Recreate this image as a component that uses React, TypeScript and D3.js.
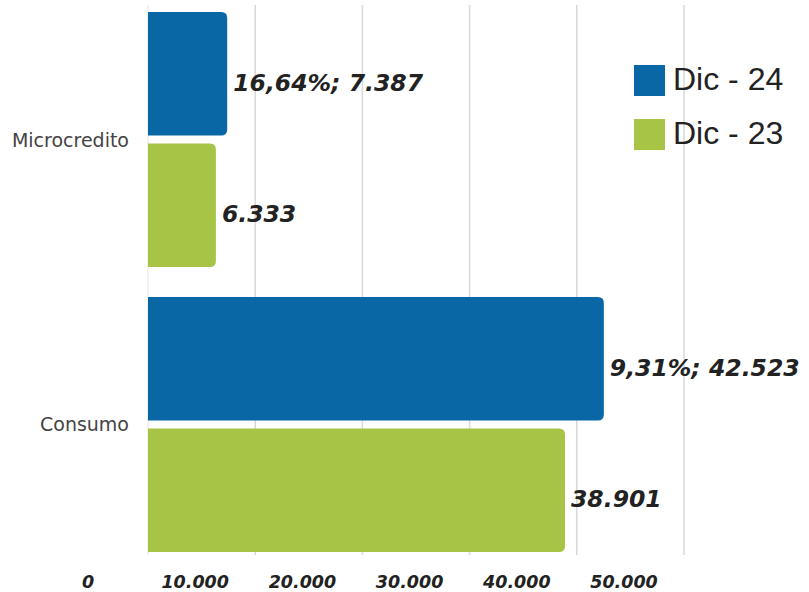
import * as d3 from "d3";

const categories = ["Microcredito", "Consumo"];
const seriesNames = ["Dic - 24", "Dic - 23"];
const dic24Values = [7387, 42523];
const dic23Values = [6333, 38901];
const dic24Labels = ["16,64%; 7.387", "9,31%; 42.523"];
const dic23Labels = ["6.333", "38.901"];
const xTicks = [0, 10000, 20000, 30000, 40000, 50000];
const xTickLabels = ["0", "10.000", "20.000", "30.000", "40.000", "50.000"];

const colors = ["#0A67A6", "#A8C446"];

const width = 809;
const height = 592;

// rounded only on the right end, like the original bars
function barPath(x0: number, x1: number, y0: number, h: number, r: number) {
  const rr = Math.min(r, (x1 - x0) / 2, h / 2);
  return `M${x0},${y0}H${x1 - rr}Q${x1},${y0} ${x1},${y0 + rr}V${y0 + h - rr}Q${x1},${y0 + h} ${x1 - rr},${y0 + h}H${x0}Z`;
}

export default function App() {
  const xScale = d3.scaleLinear().domain([0, 50000]).range([148, 684]);
  const yScale = d3.scaleBand<string>().domain(categories).range([12, 552]).paddingInner(0.105);
  const inner = d3.scaleBand<string>().domain(seriesNames).range([0, yScale.bandwidth()]).paddingInner(0.062);

  const series = [
    { name: seriesNames[0], values: dic24Values, labels: dic24Labels, color: colors[0] },
    { name: seriesNames[1], values: dic23Values, labels: dic23Labels, color: colors[1] },
  ];

  return (
    <svg
      width={width}
      height={height}
      viewBox={`0 0 ${width} ${height}`}
      style={{ position: "absolute", left: 0, top: 0, background: "#fff" }}
    >
      {/* gridlines */}
      {xTicks.map((t) => (
        <line
          key={`g${t}`}
          x1={xScale(t)}
          x2={xScale(t)}
          y1={5}
          y2={555}
          stroke={t === 0 ? "#ececec" : "#d9d9d9"}
          strokeWidth={1.5}
        />
      ))}

      {/* bars */}
      {series.map((s) =>
        categories.map((c, i) => {
          const y0 = (yScale(c) ?? 0) + (inner(s.name) ?? 0);
          const h = inner.bandwidth();
          return (
            <path
              key={`${s.name}-${c}`}
              d={barPath(xScale(0), xScale(s.values[i]), y0, h, 6)}
              fill={s.color}
            />
          );
        })
      )}

      {/* value labels */}
      {series.map((s) =>
        categories.map((c, i) => {
          const y0 = (yScale(c) ?? 0) + (inner(s.name) ?? 0);
          return (
            <text
              key={`l${s.name}-${c}`}
              x={xScale(s.values[i]) + 6}
              y={y0 + inner.bandwidth() / 2 + 17}
              fontFamily="'DejaVu Sans', sans-serif"
              fontWeight="bold"
              fontStyle="italic"
              fontSize={23.5}
              fill="#222"
            >
              {s.labels[i]}
            </text>
          );
        })
      )}

      {/* category labels */}
      {categories.map((c) => (
        <text
          key={`c${c}`}
          x={129}
          y={(yScale(c) ?? 0) + yScale.bandwidth() / 2 + 7}
          textAnchor="end"
          fontFamily="'DejaVu Sans', sans-serif"
          fontSize={19}
          fill="#444"
        >
          {c}
        </text>
      ))}

      {/* x tick labels (shifted left, as in the original) */}
      {xTicks.map((t, i) => (
        <text
          key={`t${t}`}
          x={xScale(t) - 60}
          y={588}
          textAnchor="middle"
          fontFamily="'DejaVu Sans', sans-serif"
          fontWeight="bold"
          fontStyle="italic"
          fontSize={17.5}
          fill="#222"
        >
          {xTickLabels[i]}
        </text>
      ))}

      {/* legend */}
      {series.map((s, i) => (
        <g key={`lg${s.name}`} transform={`translate(634,${65 + i * 54})`}>
          <rect width={31} height={31} fill={s.color} />
          <text
            x={39}
            y={25}
            fontFamily="'Liberation Sans', Arial, sans-serif"
            fontSize={32}
            fill="#222"
          >
            {s.name}
          </text>
        </g>
      ))}
    </svg>
  );
}
